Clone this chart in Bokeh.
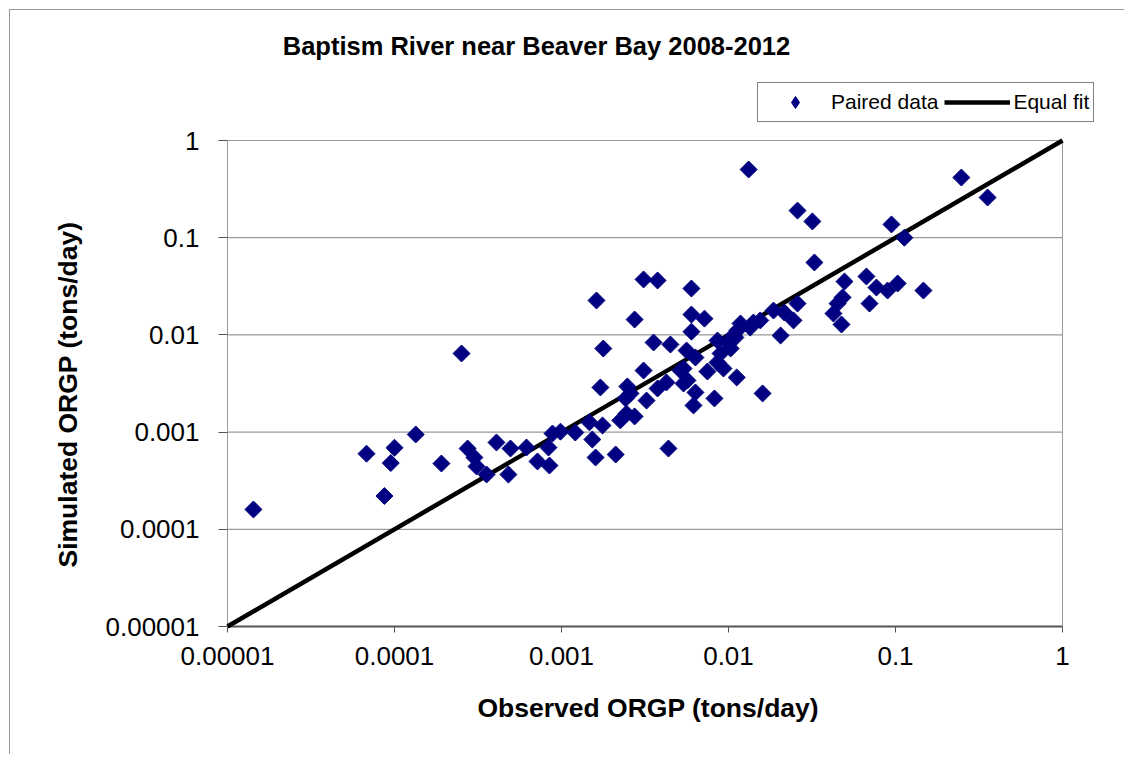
from bokeh.plotting import figure
from bokeh.models import (Range1d, FixedTicker, CustomJSTickFormatter, Label, Title,
                          Legend, LegendItem, ColumnDataSource)
from bokeh.embed import file_html
from bokeh.resources import INLINE

# ---------------- data ----------------
title_text = "Baptism River near Beaver Bay 2008-2012"
x_title = "Observed ORGP (tons/day)"
y_title = "Simulated ORGP (tons/day)"
tick_values = [1e-5, 1e-4, 1e-3, 1e-2, 1e-1, 1]
tick_labels = ["0.00001", "0.0001", "0.001", "0.01", "0.1", "1"]
grid_values = [1e-4, 1e-3, 1e-2, 1e-1]
series_names = ["Paired data", "Equal fit"]

observed = [
    1.43e-5, 6.8e-5, 8.7e-5, 9.5e-5, 1.0e-4, 1.34e-4, 1.91e-4, 2.52e-4, 2.74e-4, 3.01e-4,
    3.10e-4, 3.56e-4, 4.08e-4, 4.81e-4, 4.95e-4, 6.17e-4, 7.18e-4, 8.36e-4, 8.47e-4, 8.83e-4,
    9.86e-4, 1.21e-3, 1.47e-3, 1.53e-3, 1.60e-3, 1.76e-3, 1.71e-3, 2.11e-3, 2.25e-3, 2.48e-3,
    2.45e-3, 2.74e-3, 2.59e-3, 3.23e-3, 1.62e-3, 2.74e-3, 1.78e-3, 3.10e-3, 2.42e-3, 3.76e-3,
    4.25e-3, 5.68e-3, 5.16e-3, 6.17e-3, 4.37e-3, 3.10e-3, 3.76e-3, 6.0e-3, 6.0e-3, 7.18e-3,
    6.0e-3, 3.56e-3, 4.49e-3, 5.61e-3, 6.34e-3, 5.38e-3, 7.48e-3, 9.33e-3, 1.12e-2, 8.59e-3,
    8.96e-3, 8.59e-3, 1.03e-2, 1.10e-2, 1.18e-2, 1.35e-2, 1.55e-2, 2.05e-2, 1.86e-2, 2.16e-2,
    2.45e-2, 2.59e-2, 4.50e-2, 4.82e-2, 4.25e-2, 4.75e-2, 6.99e-2, 4.95e-2, 6.70e-2, 7.69e-2,
    8.96e-2, 0.103, 0.147, 3.27e-2, 1.32e-2, 2.59e-2, 3.18e-2, 9.46e-2, 0.113, 0.248,
    0.356, 5.38e-3, 6.34e-3, 8.24e-3, 1.60e-2, 1.13e-2, 9.86e-3, 1.41e-2, 1.07e-2,
]
simulated = [
    1.6e-4, 6.0e-4, 2.2e-4, 4.8e-4, 6.9e-4, 9.45e-4, 4.75e-4, 6.44e-3, 6.78e-4, 5.48e-4,
    4.43e-4, 3.66e-4, 7.82e-4, 3.66e-4, 6.78e-4, 6.94e-4, 4.99e-4, 6.94e-4, 4.53e-4, 9.67e-4,
    1.01e-3, 9.9e-4, 1.26e-3, 8.39e-4, 5.48e-4, 1.17e-3, 2.88e-3, 5.88e-4, 1.32e-3, 2.95e-3,
    1.55e-3, 1.45e-3, 2.50e-3, 2.11e-3, 2.26e-2, 1.44e-2, 7.24e-3, 4.30e-3, 2.22e-3, 2.81e-3,
    3.24e-3, 3.40e-3, 4.30e-3, 1.88e-3, 6.78e-4, 3.72e-2, 3.63e-2, 3.0e-2, 1.62e-2, 1.47e-2,
    1.08e-2, 8.35e-3, 7.96e-3, 6.91e-3, 5.85e-3, 4.51e-3, 4.20e-3, 4.51e-3, 3.65e-3, 5.20e-3,
    6.44e-3, 8.75e-3, 7.24e-3, 9.4e-3, 1.31e-2, 1.19e-2, 1.41e-2, 9.86e-3, 1.78e-2, 1.70e-2,
    1.41e-2, 2.10e-2, 2.10e-2, 2.43e-2, 1.66e-2, 1.28e-2, 2.10e-2, 3.54e-2, 3.99e-2, 3.07e-2,
    2.86e-2, 3.38e-2, 2.86e-2, 5.56e-2, 0.503, 0.190, 0.147, 0.137, 0.100, 0.416,
    0.259, 3.16e-3, 2.56e-3, 2.22e-3, 2.50e-3, 1.11e-2, 8.35e-3, 1.34e-2, 9.86e-3,
]
equal_fit_x = [1e-5, 1]
equal_fit_y = [1e-5, 1]

# ---------------- layout (page pixels) ----------------
FONT = "Liberation Sans"
ORIGIN = 10                 # figure content starts here (9px margin + 1px border)
W, H = 1115, 745
AREA_L, AREA_R, AREA_T, AREA_B = 227, 1062, 140, 626   # plot area (1e-5 .. 1)
FRAME_L, FRAME_R, FRAME_T, FRAME_B = 222, 1105, 15, 631
PXD_X = (AREA_R - AREA_L) / 5.0
PXD_Y = (AREA_B - AREA_T) / 5.0
lo, hi = tick_values[0], tick_values[-1]

x_min = lo * 10 ** (-(AREA_L - FRAME_L) / PXD_X)
x_max = hi * 10 ** ((FRAME_R - AREA_R) / PXD_X)
y_min = lo * 10 ** (-(FRAME_B - AREA_B) / PXD_Y)
y_max = hi * 10 ** ((AREA_T - FRAME_T) / PXD_Y)

p = figure(width=W, height=H, x_axis_type="log", y_axis_type="log",
           x_range=Range1d(x_min, x_max), y_range=Range1d(y_min, y_max),
           output_backend="svg", toolbar_location=None,
           min_border_left=FRAME_L - ORIGIN, min_border_right=ORIGIN + W - FRAME_R,
           min_border_top=FRAME_T - ORIGIN, min_border_bottom=ORIGIN + H - FRAME_B)
p.styles = {"margin-left": "9px", "margin-top": "9px",
            "border-left": "1px solid #9a9a9a", "border-top": "1px solid #9a9a9a"}
p.background_fill_color = "white"
p.border_fill_color = "white"
p.outline_line_color = None

fmt_code = """
for (let i = 0; i < vals.length; i++) {
  if (Math.abs(Math.log10(vals[i]) - Math.log10(tick)) < 1e-6) return labels[i];
}
return String(tick);
"""
for ax in (p.xaxis[0], p.yaxis[0]):
    ax.ticker = FixedTicker(ticks=tick_values, minor_ticks=[])
    ax.formatter = CustomJSTickFormatter(args=dict(vals=tick_values, labels=tick_labels), code=fmt_code)
    ax.major_label_text_font = FONT
    ax.major_label_text_font_size = "26px"
    ax.major_label_text_color = "black"
    ax.axis_line_color = None
    ax.major_tick_line_color = "#555555"
    ax.minor_tick_in = 0
    ax.minor_tick_out = 0

# x: ticks go 626 -> 632 ; y: ticks go 218 -> 227
p.xaxis.major_tick_in = FRAME_B - AREA_B
p.xaxis.major_tick_out = 1
p.xaxis.major_label_standoff = 14
p.yaxis.major_tick_in = AREA_L - FRAME_L
p.yaxis.major_tick_out = 4
p.yaxis.major_label_standoff = 19

# axis titles as side-panel titles (positioned along the plot area like the original)
y_title_r = Title(text=y_title, align="left", offset=64, standoff=38, vertical_align="middle",
                  text_font=FONT, text_font_size="26.5px", text_font_style="bold",
                  text_color="black")
p.add_layout(y_title_r, "left")
x_title_r = Title(text=x_title, align="left", offset=255, standoff=49, vertical_align="middle",
                  text_font=FONT, text_font_size="26.5px", text_font_style="bold",
                  text_color="black")
p.add_layout(x_title_r, "below")

p.xgrid.visible = False
p.ygrid.visible = False

# dotted horizontal gridlines inside the plot area
p.segment(x0=[lo] * len(grid_values), y0=grid_values, x1=[hi] * len(grid_values), y1=grid_values,
          line_color="black", line_width=1, line_dash="1 1")
# plot-area border: left, top, right (grey) and bottom axis (dark)
p.segment(x0=[lo, lo, hi], y0=[lo, hi, lo], x1=[lo, hi, hi], y1=[hi, hi, hi],
          line_color="#9a9a9a", line_width=1)
p.segment(x0=[lo], y0=[lo], x1=[hi], y1=[lo], line_color="#555555", line_width=2)

line_r = p.line(equal_fit_x, equal_fit_y, line_color="black", line_width=4.5)
# legend swatch (narrow diamond) drawn under the first data point, so it stays hidden
swatch_r = p.scatter(observed[:1], simulated[:1], marker="diamond", size=12,
                     fill_color="#000080", line_color="#000080")
src = ColumnDataSource(data=dict(x=observed, y=simulated))
pts_r = p.scatter("x", "y", source=src, marker="square", size=12, angle=0.7853981634,
                  fill_color="#000080", line_color="#000080", line_width=1)

legend = Legend(items=[LegendItem(label=series_names[0], renderers=[swatch_r]),
                       LegendItem(label=series_names[1], renderers=[line_r])],
                location=(757 - FRAME_L, FRAME_B - 122), orientation="horizontal")
legend.label_text_font = FONT
legend.label_text_font_size = "21px"
legend.label_text_color = "black"
legend.glyph_width = 66
legend.glyph_height = 30
legend.label_standoff = 3
legend.spacing = 6
legend.padding = 4
legend.margin = 0
legend.border_line_color = "black"
legend.border_line_width = 1
legend.background_fill_color = "white"
legend.background_fill_alpha = 1
p.add_layout(legend)

title_lbl = Label(x=536 - FRAME_L, y=FRAME_B - 45, x_units="screen", y_units="screen",
                  text=title_text, text_align="center", text_baseline="middle",
                  text_font=FONT, text_font_size="25.5px", text_font_style="bold",
                  text_color="black")
p.add_layout(title_lbl)

open("out.html", "w").write(file_html(p, INLINE))
